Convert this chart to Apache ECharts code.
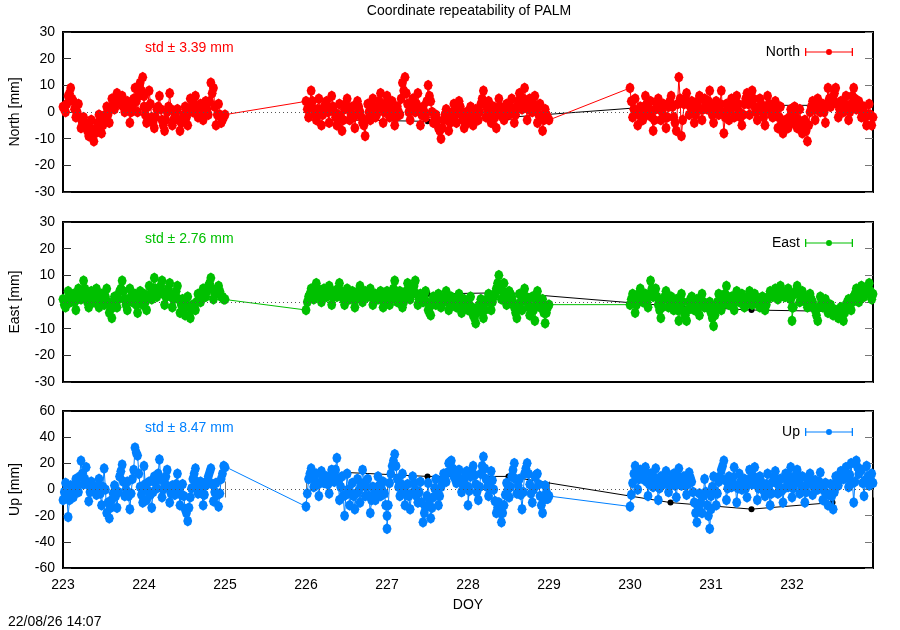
<!DOCTYPE html>
<html>
<head>
<meta charset="utf-8">
<script src="https://cdn.jsdelivr.net/npm/echarts@6/dist/echarts.min.js"></script>
<style>
  html, body { margin: 0; padding: 0; background: #fff; }
  #main { width: 900px; height: 630px; }
</style>
</head>
<body>
<div id="main"></div>
<script>
// days with data; each day has 32 samples plus 32 in-between samples
var days = [223, 224, 226, 227, 228, 230, 231, 232];
var perDay = 32;

var north = [
  2, 0, 6, 9, 4, -2, 3, -6, -2, -5, -9, -3, -11, -6, -1, -8, -3, 2, -4, 5, 1, 7, 3, 6, 0, 4, -4, 2, 9, 0, 11, 13,
  2, -4, 8, -2, -6, 1, 6, -3, -7, 0, 7, -5, -2, 1, -7, -3, 2, -5, 5, 0, 6, -2, 3, -3, 4, -1, 11, 9, -5, 3, -4, -2,
  4, -2, 8, 1, -3, 5, -5, 2, 4, -4, 6, 0, -5, 3, -7, 1, 5, -3, 2, -6, 4, 0, -4, -9, 3, -3, 5, -2, 1, 7, -4, 3,
  6, -2, 4, -5, 2, -1, 11, 13, 3, -3, 5, 0, 7, -5, 2, -2, 10, 4, -4, -1, -6, -10, -3, 1, -7, -2, 3, -4, 4, -1, -6, 0,
  -4, 2, -5, 1, -3, 3, 8, -2, 4, -4, 2, -6, 5, 0, -3, 3, -1, 5, -4, 2, 7, 1, 9, -3, 5, 0, 6, -4, 3, -7, 1, -2,
  9, -2, 5, -5, 2, -3, 6, -1, 4, -7, 1, 5, -3, 3, -6, 2, 6, -2, -7, 13, -9, 3, 7, -1, 4, -4, 2, 6, -3, 5, 1, 8,
  2, -4, 4, -1, 8, -8, 3, -3, 5, -2, 6, 0, -5, 3, 7, -1, 8, 2, -3, 5, 0, -5, 6, 1, -2, 4, -6, 2, -8, -3, -6, 1,
  -4, 2, -6, 1, -8, -3, -11, 0, 4, -3, 5, 0, 3, -4, 9, 2, 5, 9, -2, 4, 0, 6, -3, 3, 9, 1, 4, -2, 2, -5, 3, -5
];
var northMid = [
  1, 3, 7, 5, 1, 0, -2, -4, -4, -7, -6, -8, -8, -4, -5, -5, -1, -1, 1, 3, 4, 5, 4, 2, 2, 1, 0, 5, 4, 6, 8, 6,
  -1, 2, 3, -4, -2, 2, 1, -5, -3, 2, 1, -3, 0, -3, -4, -1, -2, 0, 2, 3, 2, 0, 0, 1, 1, 4, 7, 2, -1, -1, -3, -1,
  1, 3, 4, -1, 1, 0, -1, 3, 0, 1, 2, -2, -1, -2, -3, 3, 1, -1, -2, -1, 2, -2, -5, -3, 0, 1, 2, -1, 4, 2, 0, 4,
  2, 1, -1, -2, 0, 5, 8, 7, 0, 1, 2, 3, 1, -1, 0, 4, 6, 0, -2, -3, -7, -6, -1, -3, -4, 0, -1, 0, 2, -3, -3, -2,
  -1, -2, -2, -1, 0, 5, 3, 1, 0, -1, -2, 0, 2, -2, 0, 1, 2, 0, -1, 4, 4, 5, 3, 1, 2, 3, 1, -1, -2, -3, -1, -3,
  4, 1, 0, -1, 0, 2, 3, 1, -2, -3, 3, 1, 0, -2, -2, 4, 2, -4, 3, 5, -3, 5, 3, 2, 0, -1, 4, 1, 1, 3, 4, 3,
  -1, 0, 2, 3, 0, -2, 0, 1, 2, 2, 3, -2, -1, 5, 3, 4, 5, 0, 1, 3, -2, 1, 3, -1, 1, -1, -2, -3, -5, -4, -2, -2,
  -1, -2, -3, -4, -5, -7, -5, 2, 1, 1, 2, 1, 0, 3, 5, 4, 7, 3, 1, 2, 3, 2, 0, 6, 5, 2, 1, 0, -2, -1, -1, -2
];

var east = [
  1, -2, 4, 0, 3, -3, 5, 1, 8, 2, -2, 4, 0, 5, -2, 3, -1, 5, -4, -6, 2, -2, 4, 8, 1, -3, 5, 0, 3, -4, 4, -1,
  3, -3, 6, 1, 9, 2, 5, 8, -1, 4, 7, -2, 3, 6, -4, 1, -5, 2, -6, -1, -3, 3, 0, 5, 2, 6, 9, 1, 4, 6, 2, 1,
  -3, 2, 5, 1, 7, 3, 0, 5, 2, 6, -1, 4, 2, 7, 3, -1, 5, 1, 4, -2, 3, 6, 0, 4, 2, 5, -1, 3, 1, 4, -2, 2,
  4, -1, 3, 8, 0, 4, -2, 2, 7, 1, 5, 8, -1, 3, 0, 4, -3, -5, 2, -1, 3, -2, 1, 4, -3, 2, 0, -2, 3, -4, 1, -1,
  -3, 2, -5, -8, -2, 1, -6, 0, 3, -3, 2, 5, 10, 1, 7, -1, 4, 2, -2, -6, 3, -3, 5, 0, -5, 2, -7, 4, -2, 1, -8, -2,
  -1, 3, -4, 2, 5, 0, 3, -2, 8, 2, 5, -1, -6, 1, 4, -2, 2, -3, 1, -7, 3, -4, -7, 0, 2, -3, 1, -5, 3, -2, -2, 0,
  -4, -9, -2, 3, -3, 1, 6, -1, 2, -3, 4, 0, 3, -2, 1, 4, -1, 3, 0, -2, 2, -3, 1, 4, 2, 5, 1, 6, 3, 2, 5, 1,
  -7, 3, 6, 0, 4, 1, -2, 3, 0, -3, -7, 2, -2, 1, -4, -1, -5, -3, -6, -2, -7, -1, 1, -3, 2, 5, 0, 6, 2, 4, 7, 1
];
var eastMid = [
  -1, 1, 2, 1, 0, 1, 3, 4, 5, 0, 1, 2, 3, 1, 0, 1, 2, 0, -2, -2, 0, 1, 5, 4, -1, 1, 2, 1, -1, 0, 1, 2,
  0, 2, 3, 5, 5, 3, 6, 3, 2, 5, 2, 1, 4, 1, -1, -2, -1, -2, -3, -2, 0, 1, 2, 3, 4, 7, 5, 3, 5, 4, 2, 1,
  0, 3, 3, 4, 5, 2, 3, 4, 4, 3, 2, 3, 5, 4, 1, 2, 3, 2, 1, 1, 4, 3, 2, 3, 4, 2, 1, 2, 3, 1, 0, 3,
  2, 1, 5, 4, 2, 1, 0, 4, 4, 3, 6, 3, 1, 2, 2, 0, -4, -1, 0, 1, 0, 0, 2, 0, -1, 1, -1, 0, -1, -2, 0, -2,
  -1, -2, -6, -4, -1, -3, -3, 1, 0, 0, 3, 7, 5, 4, 3, 2, 3, 0, -4, -2, 0, 1, 2, -2, -2, -3, -1, 1, -1, -4, -4, -1,
  1, 0, -1, 3, 2, 1, 0, 3, 5, 3, 2, -3, -2, 2, 1, 0, -1, -1, -3, -2, 0, -5, -3, 1, -1, -1, -2, -1, 0, -1, -1, -2,
  -6, -5, 0, 0, -1, 3, 2, 0, -1, 0, 2, 1, 0, -1, 2, 1, 1, 1, -1, 0, -1, -1, 2, 3, 3, 3, 4, 4, 2, 3, 3, -2,
  -2, 4, 3, 2, 2, 0, 1, 1, -2, -5, -2, 0, -1, -2, -2, -3, -4, -4, -4, -5, -4, 0, -1, 0, 3, 2, 3, 4, 3, 5, 4, 3
];

var up = [
  -8, 5, -21, 3, -6, 8, -2, 22, 4, 17, -9, 6, 0, -4, 8, -12, 16, -18, -22, -8, 3, -14, 10, 19, -5, 6, -15, 8, 32, 26, 2, -10,
  18, -8, 6, -14, 10, 1, 23, -6, 5, 15, -10, 3, -4, 12, -12, 4, -15, -24, -6, 8, 16, -3, 6, -12, 3, 10, 16, -9, 5, -13, 8, 18,
  -13, 8, 16, 2, 12, -5, 14, 5, 10, -3, 15, 6, 24, -8, 10, -20, 12, -12, 5, -15, 8, -10, 15, -5, 8, -18, 2, -8, 10, -5, 6, -12,
  -30, 5, 18, 27, 8, -5, 12, -12, 4, -15, 10, 0, -10, 6, -25, -14, 5, -22, -6, 8, -12, 2, 12, 6, 20, 22, 10, 5, 15, -2, 8, 14,
  -12, 10, 18, 4, -8, 12, 25, 8, -5, 14, 0, -18, -10, -25, -12, 5, -6, 10, 20, -3, 8, -15, 12, 20, 4, -10, 10, 12, -5, -18, 3, -7,
  -13, 5, 18, 0, 15, 8, 17, -5, 12, 2, 16, -8, 10, 4, 14, -2, 8, 12, -6, 16, 3, 10, -4, 13, 6, -10, -25, -3, -18, 8, -12, -30,
  -5, 10, -12, 6, 15, 22, -8, 10, 2, 17, -10, 12, 0, 8, -6, 15, 4, 17, -8, 10, 3, -5, 12, -12, 6, 14, -3, 8, -10, 12, 2, 17,
  -6, 8, 15, -3, 10, -10, 5, 12, -4, 7, 0, 13, -8, 5, -12, 4, -15, 10, 3, 14, 8, 17, 2, 20, -10, 22, 12, 15, -5, 18, 3, 12
];
var upMid = [
  -2, -4, -8, -2, 1, 3, 10, 12, 8, 4, -2, 3, -2, 2, -3, 2, 0, -10, -14, -3, -5, -2, 14, 6, 0, -5, -3, 15, 28, 12, -4, 3,
  4, -1, -4, -2, 5, 12, 8, 0, 10, 2, -3, 0, 4, 0, -4, -5, -18, -14, 1, 12, 6, 2, -3, -4, 6, 13, 4, -2, -4, -3, 12, 17,
  -3, 12, 9, 7, 4, 5, 10, 8, 4, 6, 10, 15, 8, 2, -5, -4, 0, -3, -5, -3, -1, 3, 5, 2, -5, -8, -3, 1, 3, 0, -3, -20,
  -12, 12, 22, 18, 2, 4, 0, -4, -5, -3, 5, -5, -2, -10, -18, -5, -8, -14, 1, -2, -5, 7, 9, 13, 21, 16, 8, 10, 7, 3, 11, 2,
  -1, 14, 11, -2, 2, 18, 16, 2, 5, 7, -9, -14, -18, -18, -4, 0, 2, 15, 8, 3, -4, -2, 16, 12, -3, 0, 11, 4, -12, -8, -2, -5,
  -4, 12, 9, 8, 12, 12, 6, 4, 7, 9, 4, 1, 7, 9, 6, 3, 10, 3, 5, 9, 7, 3, 4, 9, -2, -18, -14, -10, -5, -2, -20, -15,
  2, -1, -3, 10, 18, 7, 1, 6, 9, 3, 1, 6, 4, 1, 5, 9, 10, 4, 1, 6, -1, 4, 0, -3, 10, 5, 2, -1, 1, 7, 10, 5,
  1, 11, 6, 3, 0, -2, 8, 4, 2, 3, 6, 2, -1, -3, -4, -5, -2, 6, 8, 11, 12, 9, 11, 5, 6, 17, 14, 5, 7, 10, 8, 5
];

// daily means (black)
var meanDays = [226.5, 227.5, 228.5, 230.5, 231.5, 232.5];
var northMean = [-3, -3.5, -2, 2.5, 2.5, 2.5];
var eastMean = [3, 3, 3.5, -1.5, -3, -3.5];
var upMean = [13, 10, 10, -10, -15, -10];

var names = ['North', 'East', 'Up'];
var stds = ['3.39', '2.76', '8.47'];
var colors = ['#ff0000', '#00c000', '#0080ff'];
var yMax = [30, 30, 60];
var yStep = [10, 10, 20];

var font = 'Liberation Sans, Arial, sans-serif';

// interleave samples and in-between samples along the day
function toPoints(vals, mids) {
  var pts = [];
  var n = perDay * 2 - 1;
  days.forEach(function (d, k) {
    for (var i = 0; i < perDay; i++) {
      pts.push([d + (2 * i) / n, vals[k * perDay + i]]);
      pts.push([d + (2 * i + 1) / n, mids[k * perDay + i]]);
    }
  });
  return pts;
}

function toMean(vals) {
  return meanDays.map(function (d, i) { return [d, vals[i]]; });
}

var chart = echarts.init(document.getElementById('main'));

var grids = [
  {left: 63, right: 27, top: 32, height: 160},
  {left: 63, right: 27, top: 222, height: 160},
  {left: 63, right: 27, top: 411, height: 157}
];
grids.forEach(function (g) {
  g.show = true;
  g.borderColor = '#000';
  g.borderWidth = 2;
});

var xAxes = [];
var yAxes = [];
for (var k = 0; k < 3; k++) {
  var last = (k === 2);
  xAxes.push({
    type: 'value', gridIndex: k, min: 223, max: 233, interval: 1,
    axisLine: {show: false},
    axisTick: {show: last, inside: true, length: 8, lineStyle: {color: '#777'}},
    axisLabel: {show: last, color: '#000', fontSize: 14, fontFamily: font, margin: 10, showMaxLabel: false},
    splitLine: {show: false}
  });
  yAxes.push({
    type: 'value', gridIndex: k, position: 'left', min: -yMax[k], max: yMax[k], interval: yStep[k],
    axisLine: {show: false},
    axisTick: {show: true, inside: true, length: 8, lineStyle: {color: '#333'}},
    axisLabel: {color: '#000', fontSize: 14, fontFamily: font, margin: 8},
    splitLine: {show: false}
  });
}
// mirrored ticks
xAxes.push({
  type: 'value', gridIndex: 2, position: 'top', min: 223, max: 233, interval: 1,
  axisLine: {show: false},
  axisTick: {show: true, inside: true, length: 8, lineStyle: {color: '#777'}},
  axisLabel: {show: false}, splitLine: {show: false}
});
for (var k = 0; k < 3; k++) {
  yAxes.push({
    type: 'value', gridIndex: k, position: 'right', min: -yMax[k], max: yMax[k], interval: yStep[k],
    axisLine: {show: false},
    axisTick: {show: true, inside: true, length: 8, lineStyle: {color: '#777'}},
    axisLabel: {show: false}, splitLine: {show: false}
  });
}

var series = [];
var allVals = [north, east, up];
var allMids = [northMid, eastMid, upMid];
var allMeans = [northMean, eastMean, upMean];
for (var k = 0; k < 3; k++) {
  // mean line + zero line underneath
  series.push({
    type: 'line', xAxisIndex: k, yAxisIndex: k, z: 2,
    data: toMean(allMeans[k]),
    symbol: 'circle', symbolSize: 6, showAllSymbol: true,
    itemStyle: {color: '#000'},
    lineStyle: {color: '#000', width: 1},
    animation: false,
    markLine: {
      silent: true, symbol: 'none', label: {show: false},
      lineStyle: {color: '#555', width: 1, type: [1, 3]},
      data: [{yAxis: 0}]
    }
  });
  series.push({
    name: names[k], type: 'line', xAxisIndex: k, yAxisIndex: k, z: 3,
    data: toPoints(allVals[k], allMids[k]),
    symbol: 'path://M0,-5 L3,-3.2 L4,0 L3,3.2 L0,5 L-3,3.2 L-4,0 L-3,-3.2Z',
    symbolSize: [9, 11], showAllSymbol: true, sampling: 'none',
    itemStyle: {color: colors[k]},
    lineStyle: {color: colors[k], width: 1},
    animation: false
  });
}

var legendIcon = 'path://M0,5.4H21V6.6H0Z M27,5.4H48V6.6H27Z M0,2H1.3V10H0Z M46.7,2H48V10H46.7Z M21,6A3,3 0 1,0 27,6A3,3 0 1,0 21,6Z';
var legendTops = [40, 231, 420];
var legends = names.map(function (n, k) {
  return {
    data: [n], right: 42, top: legendTops[k], align: 'right', orient: 'horizontal',
    icon: legendIcon, itemWidth: 48, itemHeight: 12, selectedMode: false,
    textStyle: {color: '#000', fontSize: 14, fontFamily: font}
  };
});

var graphics = [
  {type: 'text', x: 469, y: 11, style: {text: 'Coordinate repeatability of PALM', fill: '#000', font: '14px ' + font, textAlign: 'center', textVerticalAlign: 'middle'}},
  {type: 'text', x: 468, y: 605, style: {text: 'DOY', fill: '#000', font: '14px ' + font, textAlign: 'center', textVerticalAlign: 'middle'}},
  {type: 'text', x: 8, y: 622, style: {text: '22/08/26 14:07', fill: '#000', font: '14px ' + font, textAlign: 'left', textVerticalAlign: 'middle'}}
];
var nameY = [112, 302, 489.5];
var stdY = [48, 239, 428];
for (var k = 0; k < 3; k++) {
  graphics.push({type: 'text', x: 15, y: nameY[k], rotation: Math.PI / 2,
    style: {text: names[k] + ' [mm]', fill: '#000', font: '14px ' + font, textAlign: 'center', textVerticalAlign: 'middle'}});
  graphics.push({type: 'text', x: 145, y: stdY[k],
    style: {text: 'std \u00b1 ' + stds[k] + ' mm', fill: colors[k], font: '14px ' + font, textAlign: 'left', textVerticalAlign: 'middle'}});
}

chart.setOption({
  animation: false,
  backgroundColor: '#fff',
  grid: grids,
  xAxis: xAxes,
  yAxis: yAxes,
  legend: legends,
  graphic: graphics,
  series: series
});
</script>
</body>
</html>
